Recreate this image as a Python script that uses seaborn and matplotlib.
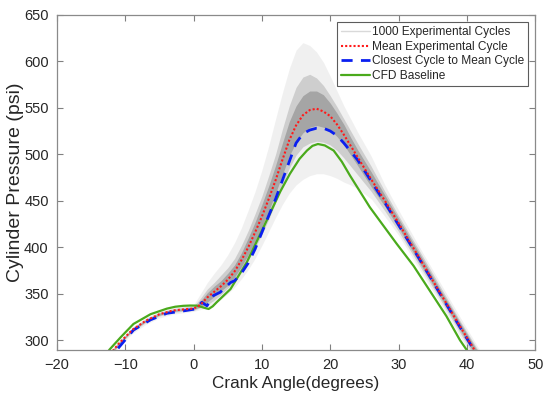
import numpy as np
import matplotlib.pyplot as plt
import pandas as pd
import seaborn as sns
from matplotlib.lines import Line2D

# crank angle grid used for the experimental band and mean cycle
crank = [-13, -11, -9, -7, -5, -3, -1, 0, 1, 2, 3, 4, 5, 6, 7, 8, 9, 10, 11, 12, 13, 14, 15,
         16, 17, 18, 19, 20, 21, 22, 23, 24, 26, 28, 30, 33, 36, 39, 42]

mean_cycle = [278, 296, 311, 321, 328, 332, 333.5, 334, 338, 346, 352, 358, 365, 374, 386, 400,
              416, 433, 452, 472, 494, 515, 531, 542, 547.5, 549, 546, 541, 532, 521, 509, 497,
              473, 450, 426, 389, 352, 315, 279]

# spread of the 1000 experimental cycles
upper_outer = [281, 299, 314, 324, 331, 335, 337, 338, 350, 362, 372, 381, 392, 405, 421, 440,
               460, 483, 509, 538, 566, 592, 612, 620, 617, 610, 599, 584, 568, 552, 538, 524,
               498, 467, 440, 401, 363, 325, 288]
lower_outer = [274, 292, 307, 317, 324, 328, 330, 331, 333, 334, 338, 344, 350, 357, 366, 376,
               388, 402, 417, 432, 446, 458, 467, 473, 477, 479, 479, 477, 474, 470, 467, 463,
               452, 433, 413, 377, 341, 304, 268]
upper_mid = [280, 298, 313, 323, 330, 334, 336, 336.5, 345, 355, 362, 370, 378, 388, 402, 418,
             436, 455, 477, 500, 527, 552, 572, 583, 586, 582, 574, 563, 551, 538, 525, 512,
             487, 460, 434, 397, 359, 321, 285]
lower_mid = [276, 294, 309, 319, 326, 330, 331.5, 332, 335, 338, 343, 349, 356, 364, 374, 386,
             399, 414, 430, 448, 467, 485, 499, 508, 512, 514, 513, 510, 504, 496, 487, 478,
             460, 439, 417, 381, 345, 308, 272]
upper_core = [279, 297, 312, 322, 329, 333, 334.5, 335, 342, 351, 358, 364, 372, 381, 394, 410,
              427, 446, 466, 488, 512, 535, 552, 563, 568, 568, 564, 555, 544, 532, 518, 505,
              481, 456, 431, 394, 356, 319, 283]
lower_core = [277, 295, 310, 320, 327, 331, 332.5, 333, 336, 341, 347, 353, 359, 368, 379, 392,
              406, 422, 439, 458, 478, 498, 513, 523, 529, 531, 529, 526, 519, 510, 499, 488,
              465, 444, 421, 384, 348, 311, 275]

# closest single cycle to the mean
closest_x = [-13, -11.2, -8.8, -6.3, -3.9, -1.5, 0.25, 1.2, 1.96, 2.9, 3.9, 5.4, 6, 7, 8, 9, 10,
             11, 12, 13, 14, 15, 16, 17, 18, 19, 20, 21, 22, 23, 24, 26, 28, 30, 33, 36, 39, 42]
closest_y = [276, 290, 311, 322, 329, 331.5, 333.6, 340.8, 337, 348, 351.6, 362, 364, 372, 383,
             398, 416, 434, 452, 472, 492, 512, 522, 526, 528, 528, 525, 520, 512, 503, 494, 471,
             448, 424, 388, 351, 314, 278]

# CFD baseline
cfd_x = [-13, -12.3, -10.7, -8.8, -6.3, -3.9, -2.7, -1.5, -0.5, 0.5, 1.5, 2.2, 2.8, 3.4, 4.4,
         5.4, 7.8, 10.2, 12.7, 14.1, 15.5, 16.6, 17.4, 18.2, 19.2, 20.5, 21.7, 22.9, 25.8, 27.3,
         29.7, 32.2, 34.6, 37, 39, 40.5]
cfd_y = [283, 290, 303, 317.5, 328, 334, 336, 337, 337.3, 337.2, 335, 333.6, 336.5, 341, 348,
         355, 384, 421, 460, 479, 495, 504, 509, 511, 509.5, 504, 492, 477, 443, 428, 404, 380,
         353, 326, 300, 284]

sns.set_style('white')
plt.rcParams['font.family'] = ['Liberation Sans', 'DejaVu Sans']

fig = plt.figure(figsize=(5.5, 3.99), dpi=100)
ax = fig.add_axes([0.1036, 0.124, 0.8694, 0.839])

ax.fill_between(crank, lower_outer, upper_outer, color='#a0a0a0', alpha=0.15, lw=0)
ax.fill_between(crank, lower_mid, upper_mid, color='#8a8a8a', alpha=0.33, lw=0)
ax.fill_between(crank, lower_core, upper_core, color='#737373', alpha=0.45, lw=0)

sns.lineplot(x=cfd_x, y=cfd_y, ax=ax, color='#4aaa1c', lw=1.6, sort=False)
sns.lineplot(x=closest_x, y=closest_y, ax=ax, color='#0a1ff0', lw=2.0, sort=False,
             linestyle=(0, (4, 3)))
sns.lineplot(x=crank, y=mean_cycle, ax=ax, color='#ff1a1a', lw=1.5, sort=False,
             linestyle=(0, (1, 1)))

ax.set_xlim(-20, 50)
ax.set_ylim(290, 650)
ax.set_xticks(range(-20, 51, 10))
ax.set_yticks(range(300, 651, 50))
ax.set_xlabel('Crank Angle(degrees)', fontsize=12.3, color='#262626', labelpad=3)
ax.set_ylabel('Cylinder Pressure (psi)', fontsize=14, color='#262626', labelpad=0)
ax.tick_params(direction='in', length=4, width=0.8, color='#808080', labelsize=10.5,
               labelcolor='#262626', bottom=True, left=True, top=True, right=True, pad=6)
for s in ax.spines.values():
    s.set_color('#8a8a8a')
    s.set_linewidth(0.9)

handles = [
    Line2D([], [], color='#d9d9d9', lw=1.0),
    Line2D([], [], color='#ff1a1a', lw=1.5, linestyle=(0, (1, 1))),
    Line2D([], [], color='#0a1ff0', lw=2.0, linestyle=(0, (4, 3))),
    Line2D([], [], color='#4aaa1c', lw=1.6),
]
labels = ['1000 Experimental Cycles', 'Mean Experimental Cycle',
          'Closest Cycle to Mean Cycle', 'CFD Baseline']
leg = ax.legend(handles, labels, loc='upper right', fontsize=8.6, frameon=True, fancybox=False,
                handlelength=2.45, handletextpad=0.1, borderpad=0.35, labelspacing=0.22,
                borderaxespad=0.6)
leg.get_frame().set_edgecolor('#333333')
leg.get_frame().set_linewidth(0.8)

fig.savefig('out.png', dpi=100)
